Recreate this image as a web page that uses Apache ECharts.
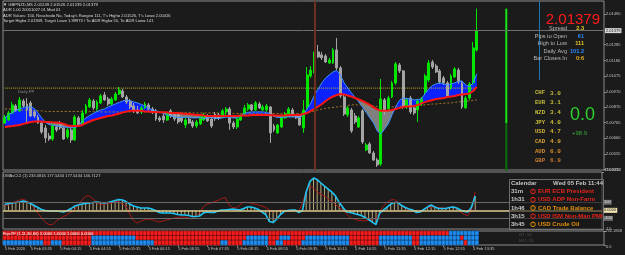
<!DOCTYPE html>
<html>
<head>
<meta charset="utf-8">
<title>GBPNZD,M5</title>
<script src="https://cdn.jsdelivr.net/npm/echarts@6.0.0/dist/echarts.min.js"></script>
<style>
  html, body { margin: 0; padding: 0; background: #1b1b1b; }
  #chart { width: 625px; height: 255px; }
</style>
</head>
<body>
<div id="chart"></div>
<script>
// GBPNZD M5, 5 Feb 2020, bars 03:00 .. 13:40 (129 bars)
var slotCount = 163; // bar slots across the window, the right part is still empty

var timeLabels = ['5 Feb 2020', '5 Feb 03:35', '5 Feb 04:15', '5 Feb 04:55', '5 Feb 05:35', '5 Feb 06:15',
  '5 Feb 06:55', '5 Feb 07:35', '5 Feb 08:15', '5 Feb 08:55', '5 Feb 09:35', '5 Feb 10:15', '5 Feb 10:55',
  '5 Feb 11:35', '5 Feb 12:15', '5 Feb 12:55', '5 Feb 13:35'];

var priceTicks = ['2.01490', '2.01285', '2.01180', '2.01075', '2.00970', '2.00870', '2.00765', '2.00660', '2.00555', '2.00450'];
var priceMin = 2.00448, priceMax = 2.01577;

var openP = [
  2.00762, 2.00782, 2.00829, 2.00876, 2.00843, 2.00909, 2.00889, 2.00896, 2.00836, 2.00802,
  2.00762, 2.00729, 2.00675, 2.00655, 2.00736, 2.00756, 2.00729, 2.00669, 2.00716, 2.00649,
  2.00796, 2.00756, 2.00829, 2.00869, 2.00909, 2.00856, 2.00896, 2.00949, 2.00923, 2.00889,
  2.00916, 2.00956, 2.00976, 2.00936, 2.00909, 2.00876, 2.00849, 2.00836, 2.00863, 2.00883,
  2.00856, 2.00843, 2.00796, 2.00809, 2.00782, 2.00843, 2.00816, 2.00822, 2.00796, 2.00749,
  2.00789, 2.00769, 2.00742, 2.00756, 2.00782, 2.00809, 2.00789, 2.00822, 2.00816, 2.00802,
  2.00836, 2.00856, 2.00762, 2.00736, 2.00782, 2.00822, 2.00856, 2.00883, 2.00849, 2.00889,
  2.00849, 2.00849, 2.00869, 2.00742, 2.00696, 2.00736, 2.00796, 2.00816, 2.00849, 2.00816,
  2.00809, 2.00729, 2.00869, 2.01076, 2.01096, 2.01237, 2.01217, 2.01210, 2.01163, 2.01163,
  2.01250, 2.01130, 2.00936, 2.00816, 2.00849, 2.00809, 2.00736, 2.00843, 2.00582, 2.00622,
  2.00562, 2.00515, 2.00488, 2.00916, 2.00856, 2.00936, 2.01030, 2.01150, 2.01110, 2.00869,
  2.00929, 2.00863, 2.00849, 2.00889, 2.00969, 2.01050, 2.01170, 2.01143, 2.01110, 2.01063,
  2.01030, 2.00996, 2.01070, 2.01116, 2.01030, 2.00863, 2.00929, 2.01030, 2.01249];
var highP = [
  2.00816, 2.00843, 2.00903, 2.00889, 2.00936, 2.00923, 2.00929, 2.00909, 2.00849, 2.00816,
  2.00776, 2.00749, 2.00696, 2.00762, 2.00749, 2.00776, 2.00742, 2.00729, 2.00729, 2.00816,
  2.00809, 2.00849, 2.00889, 2.00929, 2.00923, 2.00916, 2.00956, 2.00969, 2.00936, 2.00936,
  2.00969, 2.01003, 2.00990, 2.00949, 2.00923, 2.00896, 2.00876, 2.00876, 2.00903, 2.00896,
  2.00869, 2.00856, 2.00809, 2.00829, 2.00836, 2.00856, 2.00829, 2.00836, 2.00809, 2.00796,
  2.00802, 2.00782, 2.00782, 2.00809, 2.00829, 2.00822, 2.00802, 2.00836, 2.00829, 2.00856,
  2.00869, 2.00869, 2.00776, 2.00802, 2.00822, 2.00883, 2.00896, 2.00889, 2.00909, 2.00903,
  2.00883, 2.00889, 2.00876, 2.00756, 2.00756, 2.00816, 2.00836, 2.00869, 2.00863, 2.00822,
  2.00822, 2.00916, 2.01136, 2.01143, 2.01250, 2.01283, 2.01237, 2.01223, 2.01197, 2.01263,
  2.01330, 2.01143, 2.00949, 2.00876, 2.00863, 2.00829, 2.00809, 2.00856, 2.00629, 2.00635,
  2.00575, 2.00529, 2.01056, 2.00929, 2.00943, 2.01043, 2.01170, 2.01163, 2.01116, 2.00929,
  2.00943, 2.00876, 2.00923, 2.00936, 2.01090, 2.01183, 2.01183, 2.01157, 2.01123, 2.01076,
  2.01043, 2.01090, 2.01136, 2.01130, 2.01043, 2.00943, 2.01036, 2.01303, 2.01526];
var lowP = [
  2.00756, 2.00776, 2.00822, 2.00836, 2.00836, 2.00863, 2.00756, 2.00802, 2.00796, 2.00756,
  2.00689, 2.00629, 2.00642, 2.00642, 2.00702, 2.00716, 2.00649, 2.00655, 2.00629, 2.00642,
  2.00736, 2.00749, 2.00822, 2.00863, 2.00849, 2.00843, 2.00889, 2.00909, 2.00876, 2.00876,
  2.00909, 2.00949, 2.00929, 2.00889, 2.00856, 2.00829, 2.00822, 2.00822, 2.00856, 2.00843,
  2.00822, 2.00776, 2.00769, 2.00762, 2.00776, 2.00796, 2.00776, 2.00756, 2.00762, 2.00729,
  2.00756, 2.00729, 2.00729, 2.00749, 2.00776, 2.00769, 2.00729, 2.00776, 2.00782, 2.00796,
  2.00809, 2.00716, 2.00722, 2.00722, 2.00776, 2.00816, 2.00843, 2.00843, 2.00843, 2.00856,
  2.00843, 2.00836, 2.00629, 2.00702, 2.00689, 2.00729, 2.00789, 2.00809, 2.00802, 2.00789,
  2.00742, 2.00696, 2.00856, 2.01063, 2.01083, 2.01197, 2.01183, 2.01163, 2.01157, 2.01157,
  2.01116, 2.00929, 2.00809, 2.00802, 2.00696, 2.00756, 2.00729, 2.00622, 2.00575, 2.00555,
  2.00508, 2.00468, 2.00475, 2.00816, 2.00843, 2.00929, 2.01016, 2.01096, 2.00856, 2.00856,
  2.00822, 2.00816, 2.00769, 2.00876, 2.00956, 2.01036, 2.01123, 2.01096, 2.01023, 2.01016,
  2.00929, 2.00983, 2.01063, 2.01023, 2.00856, 2.00856, 2.00916, 2.01016, 2.01239];
var closeP = [
  2.00802, 2.00829, 2.00883, 2.00843, 2.00916, 2.00876, 2.00849, 2.00809, 2.00809, 2.00762,
  2.00702, 2.00662, 2.00655, 2.00742, 2.00716, 2.00729, 2.00655, 2.00716, 2.00649, 2.00802,
  2.00749, 2.00829, 2.00876, 2.00916, 2.00863, 2.00903, 2.00943, 2.00916, 2.00889, 2.00923,
  2.00956, 2.00983, 2.00936, 2.00903, 2.00869, 2.00843, 2.00829, 2.00863, 2.00889, 2.00856,
  2.00836, 2.00789, 2.00782, 2.00782, 2.00822, 2.00809, 2.00789, 2.00769, 2.00776, 2.00782,
  2.00762, 2.00742, 2.00769, 2.00796, 2.00816, 2.00776, 2.00742, 2.00789, 2.00796, 2.00843,
  2.00856, 2.00762, 2.00736, 2.00789, 2.00816, 2.00863, 2.00883, 2.00849, 2.00896, 2.00863,
  2.00869, 2.00876, 2.00696, 2.00716, 2.00749, 2.00802, 2.00822, 2.00856, 2.00816, 2.00796,
  2.00749, 2.00849, 2.01083, 2.01116, 2.01237, 2.01203, 2.01197, 2.01170, 2.01183, 2.01250,
  2.01130, 2.00943, 2.00822, 2.00863, 2.00709, 2.00769, 2.00796, 2.00635, 2.00615, 2.00562,
  2.00515, 2.00482, 2.00923, 2.00836, 2.00929, 2.01030, 2.01157, 2.01110, 2.00869, 2.00916,
  2.00836, 2.00829, 2.00909, 2.00923, 2.01076, 2.01163, 2.01136, 2.01103, 2.01036, 2.01030,
  2.00943, 2.01076, 2.01123, 2.01036, 2.00869, 2.00929, 2.01023, 2.01263, 2.01379];

// moving averages: red (slow, solid), fast (edge of the cloud), dotted long one
var maRed = [
  2.00736, 2.00739, 2.00742, 2.00746, 2.00749, 2.00756, 2.00762, 2.00769, 2.00772, 2.00772,
  2.00772, 2.00769, 2.00769, 2.00766, 2.00766, 2.00762, 2.00756, 2.00746, 2.00742, 2.00742,
  2.00742, 2.00749, 2.00762, 2.00772, 2.00782, 2.00789, 2.00796, 2.00802, 2.00809, 2.00812,
  2.00819, 2.00826, 2.00833, 2.00839, 2.00843, 2.00843, 2.00843, 2.00843, 2.00839, 2.00839,
  2.00836, 2.00836, 2.00833, 2.00833, 2.00833, 2.00829, 2.00829, 2.00829, 2.00826, 2.00822,
  2.00822, 2.00819, 2.00816, 2.00816, 2.00812, 2.00809, 2.00809, 2.00809, 2.00809, 2.00809,
  2.00809, 2.00809, 2.00809, 2.00809, 2.00812, 2.00812, 2.00812, 2.00816, 2.00816, 2.00816,
  2.00816, 2.00816, 2.00816, 2.00812, 2.00812, 2.00812, 2.00812, 2.00816, 2.00816, 2.00816,
  2.00816, 2.00822, 2.00829, 2.00843, 2.00856, 2.00873, 2.00889, 2.00909, 2.00926, 2.00939,
  2.00949, 2.00956, 2.00953, 2.00946, 2.00939, 2.00929, 2.00919, 2.00909, 2.00896, 2.00883,
  2.00866, 2.00853, 2.00843, 2.00843, 2.00846, 2.00849, 2.00856, 2.00863, 2.00869, 2.00873,
  2.00873, 2.00876, 2.00883, 2.00893, 2.00903, 2.00909, 2.00916, 2.00923, 2.00926, 2.00929,
  2.00936, 2.00939, 2.00943, 2.00949, 2.00953, 2.00956, 2.00959, 2.00976, 2.01003];
var maFast = [
  2.00796, 2.00816, 2.00833, 2.00846, 2.00856, 2.00866, 2.00869, 2.00869, 2.00859, 2.00829,
  2.00796, 2.00766, 2.00752, 2.00746, 2.00742, 2.00739, 2.00736, 2.00732, 2.00729, 2.00732,
  2.00742, 2.00776, 2.00796, 2.00812, 2.00826, 2.00839, 2.00849, 2.00856, 2.00869, 2.00879,
  2.00889, 2.00899, 2.00909, 2.00916, 2.00909, 2.00903, 2.00896, 2.00886, 2.00876, 2.00863,
  2.00849, 2.00843, 2.00836, 2.00826, 2.00816, 2.00809, 2.00802, 2.00799, 2.00799, 2.00799,
  2.00799, 2.00796, 2.00796, 2.00799, 2.00789, 2.00796, 2.00799, 2.00792, 2.00792, 2.00796,
  2.00802, 2.00799, 2.00796, 2.00796, 2.00809, 2.00826, 2.00833, 2.00836, 2.00836, 2.00836,
  2.00836, 2.00833, 2.00822, 2.00806, 2.00799, 2.00799, 2.00802, 2.00802, 2.00802, 2.00802,
  2.00799, 2.00816, 2.00856, 2.00896, 2.00949, 2.00990, 2.01030, 2.01063, 2.01083, 2.01103,
  2.01113, 2.01083, 2.01030, 2.00996, 2.00963, 2.00933, 2.00903, 2.00869, 2.00833, 2.00796,
  2.00762, 2.00709, 2.00689, 2.00722, 2.00756, 2.00816, 2.00869, 2.00913, 2.00929, 2.00926,
  2.00923, 2.00916, 2.00919, 2.00923, 2.00959, 2.00990, 2.01013, 2.01023, 2.01030, 2.01023,
  2.01016, 2.01023, 2.01030, 2.01040, 2.01043, 2.01016, 2.01003, 2.01030, 2.01090];
var maSlow = [
  2.00856, 2.00856, 2.00853, 2.00853, 2.00849, 2.00849, 2.00846, 2.00846, 2.00843, 2.00843,
  2.00843, 2.00839, 2.00839, 2.00839, 2.00839, 2.00839, 2.00839, 2.00839, 2.00839, 2.00839,
  2.00839, 2.00839, 2.00839, 2.00839, 2.00839, 2.00839, 2.00836, 2.00836, 2.00836, 2.00836,
  2.00836, 2.00836, 2.00836, 2.00836, 2.00836, 2.00836, 2.00836, 2.00836, 2.00836, 2.00836,
  2.00836, 2.00833, 2.00833, 2.00833, 2.00833, 2.00833, 2.00833, 2.00833, 2.00833, 2.00833,
  2.00833, 2.00829, 2.00829, 2.00829, 2.00829, 2.00829, 2.00829, 2.00829, 2.00829, 2.00826,
  2.00826, 2.00826, 2.00826, 2.00826, 2.00826, 2.00826, 2.00826, 2.00826, 2.00826, 2.00826,
  2.00826, 2.00826, 2.00826, 2.00826, 2.00826, 2.00826, 2.00826, 2.00826, 2.00826, 2.00826,
  2.00826, 2.00829, 2.00833, 2.00836, 2.00843, 2.00849, 2.00856, 2.00859, 2.00863, 2.00866,
  2.00869, 2.00873, 2.00876, 2.00879, 2.00883, 2.00883, 2.00883, 2.00883, 2.00883, 2.00879,
  2.00876, 2.00873, 2.00869, 2.00869, 2.00869, 2.00869, 2.00873, 2.00873, 2.00876, 2.00876,
  2.00876, 2.00876, 2.00879, 2.00883, 2.00883, 2.00886, 2.00889, 2.00889, 2.00893, 2.00893,
  2.00896, 2.00896, 2.00899, 2.00903, 2.00906, 2.00909, 2.00909, 2.00913, 2.00916];

var dailyPP = 2.00995;
var bidPrice = 2.01379;
var sessionBar = 84;              // 10:00 separator
var rangeBarSlot = 136, rangeTop = 2.01526, rangeMid = 2.00762, rangeLow = 2.00416;
var markerSlot = 145, markerLow = 2.01050;

// OMAsCCI sub window
var cciMin = -232.1868, cciMax = 476.9232;
var cciFast = [
  72, 85, 91, 97, 103, 116, 103, 85, 60, 35,
  10, -2, -9, -9, -9, -15, -21, -2, 22, 53,
  66, 78, 85, 91, 97, 103, 97, 91, 97, 109,
  122, 134, 128, 109, 78, 53, 41, 29, 29, 29,
  16, -2, -27, -34, -34, -34, -40, -52, -58, -58,
  -65, -77, -77, -71, -34, -21, -27, -27, -9, 4,
  4, 10, 16, 10, 4, 22, 41, 41, 29, 10,
  -21, -52, -139, -152, -108, -52, -15, -2, 4, 4,
  -27, -2, 228, 358, 402, 383, 340, 302, 265, 228,
  178, 97, 35, -21, -27, -40, -52, -65, -90, -114,
  -146, -177, -34, 4, 41, 78, 97, 97, 60, 35,
  16, 4, -27, -21, 10, 41, 66, 41, 22, 22,
  22, 35, 41, 29, 4, -15, -21, 40, 177.5434];
var cciSlow = [
  53, 66, 91, 109, 128, 141, 116, 85, 29, -34,
  -96, -146, -177, -177, -133, -102, -77, -52, -21, 10,
  66, 128, 178, 178, 141, 103, 66, 78, 85, 91,
  109, 109, 78, 47, -46, -127, -158, -133, -121, -108,
  -114, -133, -146, -133, -121, -108, -96, -90, -83, -83,
  -96, -108, -71, -34, 41, 78, 91, 109, 122, 147,
  159, 66, 35, 29, 66, 103, 97, 91, 78, 66,
  53, 35, 4, -21, -9, 4, -2, -9, -9, -9,
  -9, 91, 240, 296, 277, 228, 203, 178, 141, 109,
  72, 35, -2, -46, -90, -108, -123, -127, -133, -121,
  -108, -96, -21, 53, 97, 128, 134, 103, 60, 22,
  4, -5, -27, -9, 10, 29, 41, 41, 37, 29,
  26, 35, 41, 22, -21, -52, -65, 4, 233.0816];
var cciTitle = 'OMAsCCI (1) 233.0816 177.5434 177.5434 146.7127';

// timeframe strip: bar ranges drawn blue, the rest red (rows top to bottom)
var tfTopBlue = [[121, 128]];
var tfMidBlue = [[24, 35], [66, 71], [75, 77], [82, 93], [102, 110], [113, 123], [125, 128]];
var tfBotBlue = [[0, 10], [13, 15], [24, 40], [59, 60], [65, 71], [74, 75], [81, 93], [102, 110], [113, 124], [126, 128]];
var tfTitle = 'FipsTF (1,11,30,60) 2.0000 1.0000 1.0000 0.0000';

// text panels
var headerLines = [
  'ADR 1.00 20051027 01 Mod 01',
  'ADR Values: 150, Reached= No, Today\'s Range= 111, T\'s High= 2.01526, T\'s Low= 2.00416',
  'Target High= 2.01909, Target Low= 1.99973 / To ADR High= 55, To ADR Low= 141'];
var infoLabels = ['Spread', 'Pips to Open', 'High to Low', 'Daily Avg', 'Bar Closes In'];
var infoValues = ['2.3', '61', '111', '101.2', '0:6'];
var currencies = ['CHF', 'EUR', 'NZD', 'JPY', 'USD', 'CAD', 'AUD', 'GBP'];
var strength = [3.0, 3.1, 3.4, 4.0, 4.7, 4.9, 6.0, 6.9];
var strengthDiff = 0.0, strengthPips = 98.9;
var calTitle = 'Wed 05 Feb 11:44';
var calTimes = ['31m', '1h31', '1h46', '3h15', '3h45'];
var calEvents = ['EUR ECB President', 'USD ADP Non-Farm', 'CAD Trade Balance', 'USD ISM Non-Man PMI', 'USD Crude Oil'];
var calImpact = ['high', 'high', 'medium', 'high', 'medium'];
var tfBoxLines = ['H1  58', 'M15 33'];

// ---- build
var chart = echarts.init(document.getElementById('chart'));
var font = 'Liberation Sans';
var nBars = openP.length;
var slots = [];
for (var s = 0; s < slotCount; s++) slots.push(String(s));

function tickText(i) {
  if (i === 0) return timeLabels[0];
  if (i >= 7 && i < nBars && (i - 7) % 8 === 0) return timeLabels[(i - 7) / 8 + 1] || '';
  return '';
}

var candleData = openP.map(function (o, i) { return [o, closeP[i], lowP[i], highP[i]]; });
var bandBase = maFast.map(function (f, i) { return Math.min(f, maRed[i]); });
var bandUp = maFast.map(function (f, i) { return f > maRed[i] ? f - maRed[i] : 0; });
var bandDown = maFast.map(function (f, i) { return f < maRed[i] ? maRed[i] - f : 0; });
var ppLine = openP.map(function () { return dailyPP; });

var tfData = [];
[tfTopBlue, tfMidBlue, tfBotBlue].forEach(function (spans, r) {
  for (var i = 0; i < nBars; i++) {
    var blue = spans.some(function (sp) { return i >= sp[0] && i <= sp[1]; });
    tfData.push([i, r, blue ? 1 : 0]);
  }
});

var axisText = { color: '#c4c4c4', fontSize: 4, fontFamily: font };
var gridBox = { left: 3, right: 21, show: true, borderColor: '#8c8c8c', borderWidth: 1 };

function plainLine(data, color, width, type, xi, yi, z) {
  return {
    type: 'line', data: data, xAxisIndex: xi || 0, yAxisIndex: yi || 0,
    symbol: 'none', silent: true, z: z || 3,
    lineStyle: { color: color, width: width, type: type || 'solid' }
  };
}

var hiddenX = function (gi) {
  return { type: 'category', gridIndex: gi, data: slots, show: false };
};

var graphics = [];
function txt(x, y, text, color, size, opts) {
  opts = opts || {};
  graphics.push({
    type: 'text', x: x, y: y, silent: true, z: 100,
    style: {
      text: text, fill: color, fontSize: size, fontFamily: opts.family || font,
      fontWeight: opts.weight || 'normal', align: opts.align || 'left', verticalAlign: 'middle'
    }
  });
}

// header (top-left)
txt(3, 4.5, '\u25BC GBPNZD,M5 ' + [openP[nBars - 1], highP[nBars - 1], lowP[nBars - 1], closeP[nBars - 1]]
  .map(function (v) { return v.toFixed(5); }).join(' '), '#dcdcdc', 4.2);
headerLines.forEach(function (t, k) { txt(3, 10 + k * 5.5, t, '#dcdcdc', 4.1); });
txt(18, 91.5, 'Daily PP', '#8c8c8c', 4.3);

// price panel on the right
txt(600, 19.5, bidPrice.toFixed(5), '#ff1a1a', 15, { align: 'right' });
var infoColors = ['#e8c820', '#2a8cff', '#e8c820', '#2a8cff', '#e8b020'];
infoLabels.forEach(function (t, k) {
  var y = 28.5 + k * 7.6;
  txt(567, y, t, '#b8b8b8', 5.6, { align: 'right' });
  txt(584, y, infoValues[k], infoColors[k], 5.6, { align: 'right', weight: 'bold' });
});
var strengthColors = ['#c4bc3c', '#c4bc3c', '#c4bc3c', '#d0bf38', '#d8b436', '#dca432', '#d88e2c', '#c87a2e'];
currencies.forEach(function (c, k) {
  var y = 93 + k * 9.7;
  txt(535, y, c, strengthColors[k], 5.6, { family: 'Liberation Mono', weight: 'bold' });
  txt(550, y, strength[k].toFixed(1), strengthColors[k], 6, { family: 'Liberation Mono', weight: 'bold' });
});
txt(570, 115, strengthDiff.toFixed(1), '#2ed02e', 18);
txt(572, 133, '+' + strengthPips.toFixed(1), '#3aa83a', 6);

// sub window titles
txt(3, 175.5, cciTitle, '#d0d0d0', 4.1);
txt(3, 233.5, tfTitle, '#ffffff', 4.1);
tfBoxLines.forEach(function (t, k) { txt(519, 235 + k * 5.5, t, '#4c4c4c', 4.3); });

// calendar panel
graphics.push({
  type: 'rect', silent: true, z: 99,
  shape: { x: 509.5, y: 179.5, width: 94, height: 50 },
  style: { fill: 'rgba(22,22,22,0.55)', stroke: '#808080', lineWidth: 0.8 }
});
txt(511, 183.5, 'Calendar', '#c8c8c8', 6, { weight: 'bold' });
txt(603, 183.5, calTitle, '#c8c8c8', 6, { weight: 'bold', align: 'right' });
calEvents.forEach(function (ev, k) {
  var y = 191.5 + k * 8.2;
  var col = calImpact[k] === 'high' ? '#e8241c' : '#e0900a';
  txt(511, y, calTimes[k], '#c8c8c8', 6, { weight: 'bold' });
  graphics.push({
    type: 'circle', silent: true, z: 100,
    shape: { cx: 533, cy: y, r: 2.3 },
    style: { fill: 'none', stroke: col, lineWidth: 1 }
  });
  txt(533, y, '!', col, 3.6, { align: 'center', weight: 'bold' });
  txt(538, y, ev, col, 6, { weight: 'bold' });
});

var series = [
  // cloud between fast line and red MA
  { type: 'line', data: bandBase, stack: 'cloud', symbol: 'none', silent: true, z: 1, lineStyle: { width: 0, opacity: 0 } },
  { type: 'line', data: bandUp, stack: 'cloud', symbol: 'none', silent: true, z: 1, lineStyle: { width: 0, opacity: 0 }, areaStyle: { color: '#0a22ff', opacity: 1 } },
  { type: 'line', data: bandDown, stack: 'cloud', symbol: 'none', silent: true, z: 1, lineStyle: { width: 0, opacity: 0 }, areaStyle: { color: '#808080', opacity: 1 } },
  plainLine(ppLine, '#c8b41e', 1, 'dotted', 0, 0, 2),
  plainLine(maSlow, '#a87a2a', 1, [2, 2], 0, 0, 2),
  {
    type: 'candlestick', data: candleData, barWidth: 2.4, silent: true, z: 3,
    itemStyle: { color: '#00e600', color0: '#a4a4a4', borderColor: '#00e600', borderColor0: '#a4a4a4', borderWidth: 1 }
  },
  plainLine(maFast, '#3a92ff', 1, 'solid', 0, 0, 4),
  plainLine(maRed, '#ff1414', 2, 'solid', 0, 0, 4),
  plainLine([[rangeBarSlot, rangeTop], [rangeBarSlot, rangeMid]], '#14e614', 2, 'solid', 0, 0, 4),
  plainLine([[rangeBarSlot, rangeMid], [rangeBarSlot, rangeLow]], '#0a6e0a', 2, 'solid', 0, 0, 4),
  plainLine([[markerSlot, priceMax], [markerSlot, markerLow]], '#1e78b4', 1, 'solid', 0, 0, 4),
  // bid line and 10:00 separator
  {
    type: 'line', data: [], symbol: 'none', silent: true, z: 2,
    markLine: {
      silent: true, symbol: ['none', 'none'], animation: false, precision: 5,
      data: [
        {
          yAxis: bidPrice,
          lineStyle: { color: '#6e6e6e', width: 1, type: 'solid' },
          label: {
            show: true, position: 'end', distance: 1, formatter: bidPrice.toFixed(5),
            color: '#101010', backgroundColor: '#dadada', fontSize: 4, fontFamily: font, padding: [1, 1, 0, 1]
          }
        },
        { xAxis: sessionBar, lineStyle: { color: '#6b3020', width: 2, type: 'solid' }, label: { show: false } }
      ]
    }
  },
  // CCI histogram + levels
  {
    type: 'bar', data: cciFast, xAxisIndex: 1, yAxisIndex: 1, barWidth: 1, silent: true, z: 2,
    itemStyle: { color: '#bca878' },
    markLine: {
      silent: true, symbol: ['none', 'none'], animation: false, precision: 4,
      label: { show: true, position: 'end', distance: 1, fontSize: 4, fontFamily: font, padding: [1, 1, 0, 1] },
      data: [
        { yAxis: 100, lineStyle: { color: '#6a6a6a', width: 1, type: 'solid' }, label: { formatter: '100', color: '#e0e0e0', backgroundColor: '#6a6a6a' } },
        { yAxis: 0, lineStyle: { color: '#dccb8e', width: 1.5, type: 'solid' }, label: { formatter: '0.0000', color: '#101010', backgroundColor: '#f2e6b4' } },
        { yAxis: -100, lineStyle: { color: '#6a6a6a', width: 1, type: 'solid' }, label: { formatter: '-100', color: '#e0e0e0', backgroundColor: '#6a6a6a' } }
      ]
    }
  },
  plainLine(cciSlow, '#a81818', 1, 'solid', 1, 1, 3),
  plainLine(cciFast, '#1ec4f4', 1.6, 'solid', 1, 1, 4),
  {
    type: 'heatmap', data: tfData, xAxisIndex: 2, yAxisIndex: 2, silent: true,
    itemStyle: { borderColor: 'rgba(0,0,0,0.55)', borderWidth: 0.6 },
    emphasis: { disabled: true }
  }
];
var heatIndex = series.length - 1;

var option = {
  backgroundColor: '#1b1b1b',
  animation: false,
  textStyle: { fontFamily: font },
  grid: [
    Object.assign({ top: 1, height: 169 }, gridBox),
    Object.assign({ top: 172, height: 57 }, gridBox),
    Object.assign({ top: 231, height: 14 }, gridBox)
  ],
  xAxis: [
    hiddenX(0),
    hiddenX(1),
    {
      type: 'category', gridIndex: 2, data: slots,
      axisLine: { show: false },
      axisTick: {
        show: true, alignWithLabel: true, length: 2,
        interval: function (i) { return tickText(i) !== ''; },
        lineStyle: { color: '#8c8c8c' }
      },
      axisLabel: Object.assign({
        show: true, interval: 0, margin: 2, align: 'left',
        formatter: function (v, i) { return tickText(i); }
      }, axisText)
    }
  ],
  yAxis: [
    {
      type: 'value', gridIndex: 0, position: 'right', min: priceMin, max: priceMax, scale: true,
      splitLine: { show: false }, axisLine: { show: false },
      axisTick: { show: true, length: 2, customValues: priceTicks.map(Number), lineStyle: { color: '#8c8c8c' } },
      axisLabel: Object.assign({
        margin: 2, customValues: priceTicks.map(Number),
        formatter: function (v) { return v.toFixed(5); }
      }, axisText)
    },
    {
      type: 'value', gridIndex: 1, position: 'right', min: cciMin, max: cciMax,
      splitLine: { show: false }, axisLine: { show: false },
      axisTick: { show: true, length: 2, customValues: [cciMax, cciMin], lineStyle: { color: '#8c8c8c' } },
      axisLabel: Object.assign({
        margin: 2, customValues: [cciMax, cciMin],
        verticalAlignMaxLabel: 'top', verticalAlignMinLabel: 'bottom',
        formatter: function (v) { return v.toFixed(4); }
      }, axisText)
    },
    { type: 'category', gridIndex: 2, data: ['a', 'b', 'c'], inverse: true, show: false },
    {
      type: 'value', gridIndex: 2, position: 'right', min: 0.5, max: 1.5,
      splitLine: { show: false }, axisLine: { show: false },
      axisTick: { show: true, length: 2, customValues: [1.5, 0.5], lineStyle: { color: '#8c8c8c' } },
      axisLabel: Object.assign({
        margin: 2, customValues: [1.5, 0.5],
        verticalAlignMaxLabel: 'top', verticalAlignMinLabel: 'bottom',
        formatter: function (v) { return v.toFixed(1); }
      }, axisText)
    }
  ],
  visualMap: {
    show: false, type: 'piecewise', seriesIndex: heatIndex, dimension: 2,
    pieces: [{ value: 0, color: '#f41c1c' }, { value: 1, color: '#1e8cf0' }]
  },
  series: series,
  graphic: graphics
};

chart.setOption(option);
</script>
</body>
</html>
